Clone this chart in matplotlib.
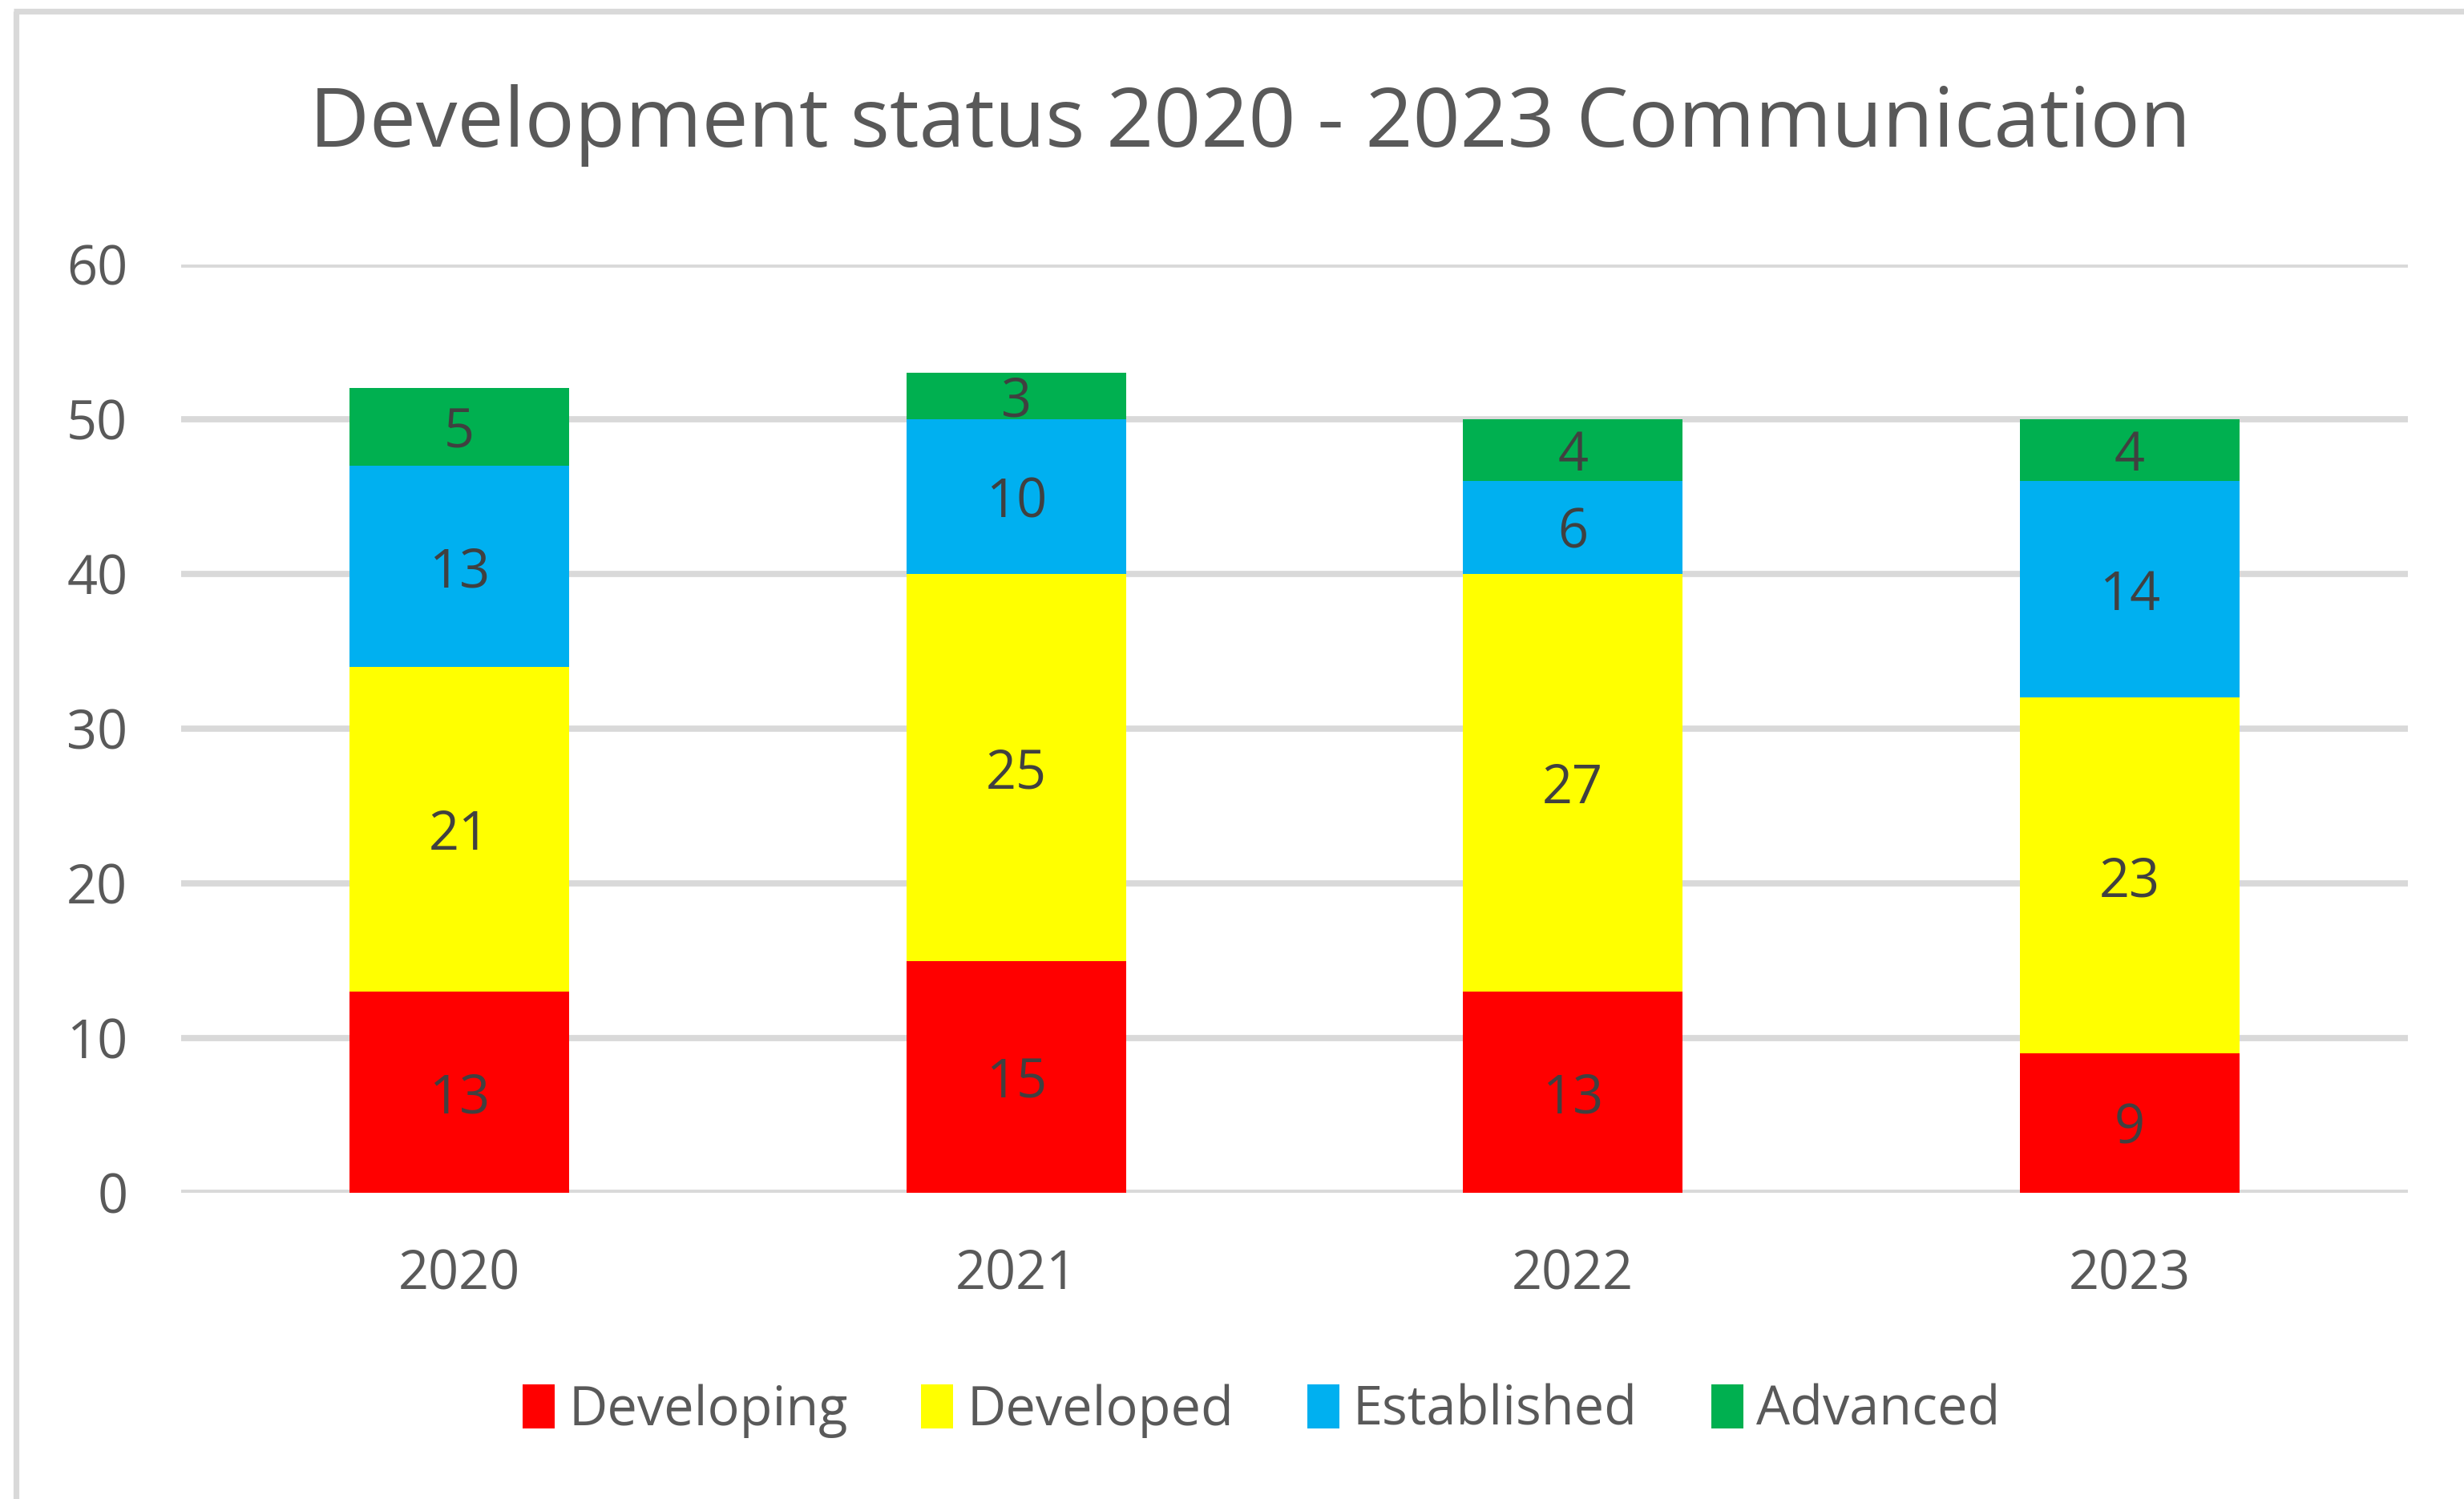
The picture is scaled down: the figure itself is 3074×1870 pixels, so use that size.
import matplotlib
matplotlib.use('Agg')
import matplotlib.pyplot as plt
from matplotlib.patches import Patch
from matplotlib.lines import Line2D
import numpy as np

# -- dados ------------------------------------------------------------------
years = ['2020', '2021', '2022', '2023']
developing = [13, 15, 13, 9]
developed = [21, 25, 27, 23]
established = [13, 10, 6, 14]
advanced = [5, 3, 4, 4]

series = [
    ('Developing', developing, '#FF0000'),
    ('Developed', developed, '#FFFF00'),
    ('Established', established, '#00B0F0'),
    ('Advanced', advanced, '#00B050'),
]

yticks = [0, 10, 20, 30, 40, 50, 60]

# -- figura -----------------------------------------------------------------
W, H, DPI = 3074, 1870, 200
plt.rcParams['font.family'] = ['Open Sans', 'DejaVu Sans']

fig = plt.figure(figsize=(W / DPI, H / DPI), dpi=DPI)
fig.patch.set_facecolor('white')

# moldura do gráfico (só borda esquerda e superior aparecem)
fig.add_artist(Line2D([20 / W, 20 / W], [0, 1 - 14 / H], transform=fig.transFigure,
                      color='#D9D9D9', linewidth=2.6, solid_capstyle='butt'))
fig.add_artist(Line2D([17 / W, 1], [1 - 14 / H, 1 - 14 / H], transform=fig.transFigure,
                      color='#D9D9D9', linewidth=2.6, solid_capstyle='butt'))

left, right = 226 / W, 3004 / W
bottom, top = 1 - 1488 / H, 1 - 330 / H
ax = fig.add_axes([left, bottom, right - left, top - bottom])

x = np.arange(len(years))
bar_w = 0.395
base = np.zeros(len(years))
for name, vals, cor in series:
    vals = np.array(vals, dtype=float)
    ax.bar(x, vals, bar_w, bottom=base, color=cor, label=name, zorder=3)
    for xi, b, v in zip(x, base, vals):
        ax.text(xi, b + v / 2, f'{int(v)}', ha='center', va='center_baseline',
                fontsize=24, color='#404040', zorder=4)
    base += vals

ax.set_xlim(-0.5, len(years) - 0.5)
ax.set_ylim(0, 60)
ax.set_yticks(yticks)
ax.set_yticklabels([str(t) for t in yticks], fontsize=24, color='#595959')
ax.set_xticks(x)
ax.set_xticklabels(years, fontsize=24, color='#595959')
ax.tick_params(axis='both', length=0)
ax.tick_params(axis='y', pad=24)
ax.tick_params(axis='x', pad=25)

ax.grid(axis='y', color='#D9D9D9', linewidth=2.8, zorder=0)
ax.set_axisbelow(True)
for s in ax.spines.values():
    s.set_visible(False)

fig.text(1560 / W, 1 - 156 / H, 'Development status 2020 - 2023 Communication',
         ha='center', va='center', fontsize=37.2, color='#595959')

handles = [Patch(facecolor=c, label=n) for n, _, c in series]
fig.legend(handles=handles, loc='center', bbox_to_anchor=(1574 / W, 1 - 1760 / H),
           ncol=4, frameon=False, fontsize=24, labelcolor='#595959',
           handlelength=0.6, handleheight=0.9, handletextpad=0.25, columnspacing=1.38)

fig.savefig('out.png', dpi=DPI, facecolor='white')
